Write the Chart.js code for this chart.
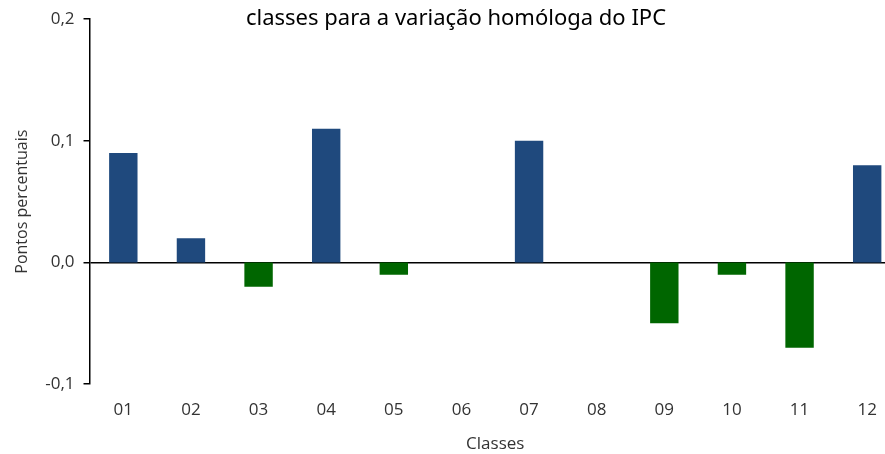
<!DOCTYPE html>
<html>
<head>
<meta charset="utf-8">
<script src="https://cdn.jsdelivr.net/npm/chart.js@4"></script>
<style>
  html, body { margin: 0; padding: 0; background: #fff; overflow: hidden; }
  #wrap { position: relative; width: 901px; height: 454px; }
</style>
</head>
<body>
<div id="wrap"><canvas id="grafica"></canvas></div>
<script>
const classes = ["01", "02", "03", "04", "05", "06", "07", "08", "09", "10", "11", "12"];
const contributos = [0.09, 0.02, -0.02, 0.11, -0.01, 0, 0.10, 0, -0.05, -0.01, -0.07, 0.08];
const titulo = "classes para a variação homóloga do IPC";

const azul = "rgb(31, 73, 125)";
const verde = "rgb(0, 102, 0)";

// titulo desenhado a mao porque o original esta cortado em cima
const tituloPlugin = {
    id: "tituloCortado",
    afterDraw(chart) {
        const ctx = chart.ctx;
        ctx.save();
        ctx.font = "22px 'Noto Sans'";
        ctx.fillStyle = "#000";
        ctx.textAlign = "center";
        ctx.textBaseline = "alphabetic";
        ctx.fillText(titulo, 456, 25);
        ctx.restore();
    }
};

var grafica = document.getElementById("grafica");
var myChart = new Chart(grafica, {
    type: "bar",
    data: {
        labels: classes,
        datasets: [{
            data: contributos,
            backgroundColor: contributos.map(v => v < 0 ? verde : azul),
            barPercentage: 0.84,
            categoryPercentage: 0.5
        }]
    },
    options: {
        responsive: true,
        maintainAspectRatio: false,
        animation: false,
        layout: { padding: { top: 16, right: 0, left: 9, bottom: 0 } },
        plugins: { legend: { display: false }, tooltip: { enabled: false } },
        scales: {
            x: {
                grid: { display: false },
                border: { display: false },
                ticks: { color: "#333", font: { family: "Open Sans", size: 17 }, padding: 8 },
                title: { display: true, text: "Classes", color: "#333", font: { family: "Open Sans", size: 17 }, padding: { top: 5, bottom: 0 } }
            },
            y: {
                min: -0.1,
                max: 0.2,
                ticks: {
                    stepSize: 0.1,
                    color: "#333",
                    font: { family: "Open Sans", size: 17 },
                    padding: 9,
                    callback: v => v.toFixed(1).replace(".", ",")
                },
                grid: {
                    color: c => Math.abs(c.tick.value) < 1e-9 ? "#000" : "rgba(0,0,0,0)",
                    tickColor: "#000",
                    tickLength: 6,
                    lineWidth: 1.5
                },
                border: { color: "#000", width: 1.5 },
                title: { display: true, text: "Pontos percentuais", color: "#333", font: { family: "Open Sans", size: 16 }, padding: { bottom: 4 } }
            }
        }
    },
    plugins: [tituloPlugin]
});
</script>
</body>
</html>
